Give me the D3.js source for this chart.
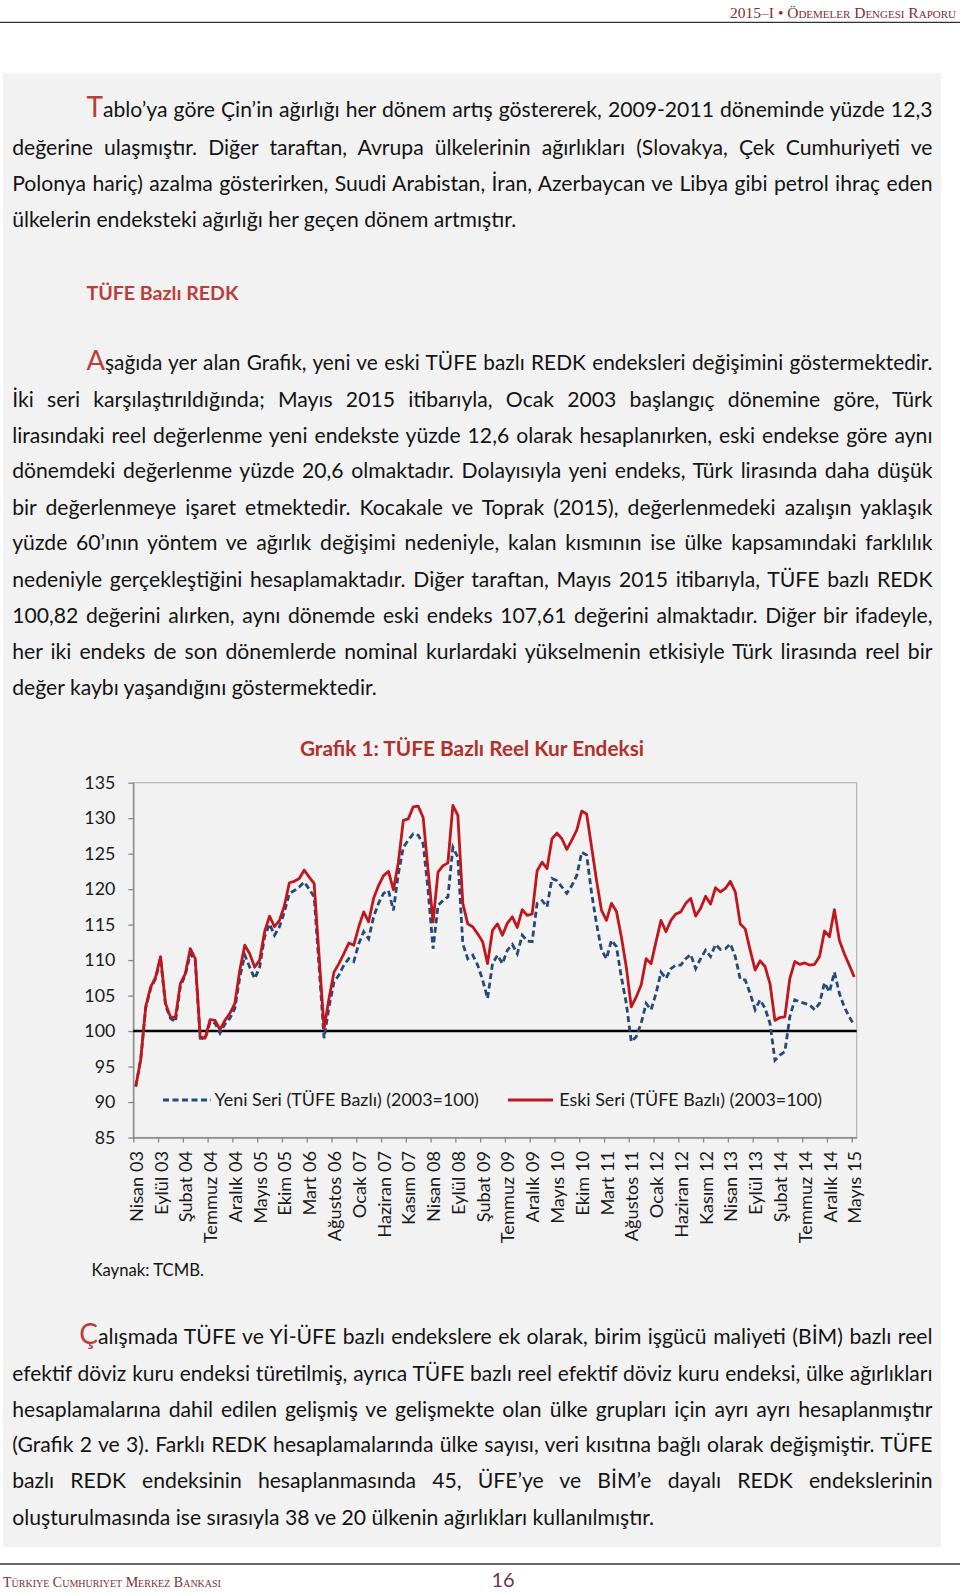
<!DOCTYPE html>
<html><head><meta charset="utf-8">
<script src="https://cdn.jsdelivr.net/npm/d3@7"></script>
<style>
html,body{margin:0;padding:0;background:#fff;}
#page{position:relative;width:960px;height:1594px;overflow:hidden;font-family:Lato,'Open Sans',sans-serif;}
#gray{position:absolute;left:3px;top:73px;width:938px;height:1474px;background:#f2f2f2;}
#chart{position:absolute;left:0;top:0;}
.ln{position:absolute;white-space:nowrap;color:#141414;}
</style></head><body>
<div id="page"><div id="gray"></div><svg id="chart" width="960" height="1594"></svg></div>
<script>
// ---------------- DATA ----------------
const tickLabels = ["Nisan 03","Eylül 03","Şubat 04","Temmuz 04","Aralık 04","Mayıs 05","Ekim 05","Mart 06","Ağustos 06","Ocak 07","Haziran 07","Kasım 07","Nisan 08","Eylül 08","Şubat 09","Temmuz 09","Aralık 09","Mayıs 10","Ekim 10","Mart 11","Ağustos 11","Ocak 12","Haziran 12","Kasım 12","Nisan 13","Eylül 13","Şubat 14","Temmuz 14","Aralık 14","Mayıs 15"];
const yTicks = [85,90,95,100,105,110,115,120,125,130,135];
const yeniSeri = [92.2,96.0,103.2,106.0,107.4,110.2,103.6,101.8,101.3,106.3,107.9,110.9,109.9,99.0,98.9,101.3,101.1,99.7,101.0,101.8,
103.2,107.6,110.7,109.0,107.4,109.0,113.3,115.1,113.5,114.7,116.8,119.4,119.8,120.3,121.0,120.0,118.9,109.0,99.0,103.4,
106.9,107.9,109.3,110.2,109.8,112.3,114.0,113.0,116.1,118.0,119.4,119.8,117.0,122.2,125.9,126.9,127.8,127.6,126.4,119.8,
111.6,117.7,118.4,118.9,125.9,124.5,112.3,110.2,110.7,109.3,107.2,104.6,109.5,110.7,109.5,111.4,112.2,110.9,113.5,112.7,
112.6,118.0,118.4,117.5,121.5,121.2,120.3,119.4,120.5,121.9,125.2,124.8,119.4,115.1,111.4,110.2,112.8,111.9,107.6,103.9,
98.5,99.2,101.1,103.9,103.0,105.3,108.3,107.4,108.8,109.3,109.3,110.2,110.8,108.8,110.2,111.4,110.5,112.2,111.5,111.6,
112.3,110.5,107.3,107.2,105.3,103.0,104.4,103.2,101.1,95.9,96.6,97.1,102.0,104.4,104.1,103.9,103.7,103.0,103.9,106.8,
105.5,108.3,105.3,103.4,102.0,100.82];
const eskiSeri = [92.2,96.0,103.4,106.2,107.6,110.5,103.9,102.0,101.9,106.7,108.1,111.6,110.2,99.2,99.0,101.6,101.5,100.2,101.5,102.5,
103.9,108.6,112.1,110.9,109.0,110.0,114.0,116.2,114.7,115.6,117.7,120.9,121.1,121.5,122.7,121.7,120.8,110.5,100.4,104.6,
108.3,109.5,110.9,112.4,112.1,114.7,116.8,115.4,118.7,120.5,121.9,122.5,119.9,123.8,129.7,129.9,131.6,131.7,130.1,122.6,
115.4,122.4,123.3,123.7,131.8,130.4,118.0,115.1,114.7,113.7,112.6,109.5,114.2,115.1,113.5,115.2,116.1,114.6,117.1,116.3,
116.5,122.6,123.8,122.9,127.1,127.9,127.1,125.6,126.9,128.3,131.0,130.6,125.9,121.2,117.0,115.6,118.0,116.9,113.3,109.0,
103.4,104.8,106.5,110.2,109.5,112.6,115.6,114.0,115.6,116.5,116.8,118.0,118.7,116.2,117.3,119.0,117.9,120.2,119.6,120.1,
121.1,119.6,115.1,114.4,111.4,108.6,109.9,109.1,106.7,101.5,101.9,102.0,107.4,109.8,109.4,109.6,109.3,109.4,110.5,114.1,
113.3,117.1,112.8,110.9,109.3,107.61];
const seriesNames = ["Yeni Seri (TÜFE Bazlı) (2003=100)","Eski Seri (TÜFE Bazlı) (2003=100)"];
const chartTitle = "Grafik 1: TÜFE Bazlı Reel Kur Endeksi";

const para1 = [
 "Tablo’ya göre Çin’in ağırlığı her dönem artış göstererek, 2009-2011 döneminde yüzde 12,3",
 "değerine ulaşmıştır. Diğer taraftan, Avrupa ülkelerinin ağırlıkları (Slovakya, Çek Cumhuriyeti ve",
 "Polonya hariç) azalma gösterirken, Suudi Arabistan, İran, Azerbaycan ve Libya gibi petrol ihraç eden",
 "ülkelerin endeksteki ağırlığı her geçen dönem artmıştır."];
const heading = "TÜFE Bazlı REDK";
const para2 = [
 "Aşağıda yer alan Grafik, yeni ve eski TÜFE bazlı REDK  endeksleri değişimini göstermektedir.",
 "İki seri karşılaştırıldığında; Mayıs 2015 itibarıyla, Ocak 2003 başlangıç dönemine göre, Türk",
 "lirasındaki reel değerlenme yeni endekste yüzde 12,6 olarak hesaplanırken, eski endekse göre aynı",
 "dönemdeki değerlenme yüzde 20,6 olmaktadır. Dolayısıyla yeni endeks, Türk lirasında daha düşük",
 "bir değerlenmeye işaret etmektedir. Kocakale ve Toprak (2015), değerlenmedeki azalışın yaklaşık",
 "yüzde 60’ının yöntem ve ağırlık değişimi nedeniyle, kalan kısmının ise ülke kapsamındaki farklılık",
 "nedeniyle gerçekleştiğini hesaplamaktadır. Diğer taraftan, Mayıs 2015 itibarıyla, TÜFE bazlı REDK",
 "100,82 değerini alırken, aynı dönemde eski endeks 107,61 değerini almaktadır. Diğer bir ifadeyle,",
 "her iki endeks de son dönemlerde nominal kurlardaki yükselmenin etkisiyle Türk lirasında reel bir",
 "değer kaybı yaşandığını göstermektedir."];
const source = "Kaynak: TCMB.";
const para3 = [
 "Çalışmada TÜFE ve Yİ-ÜFE bazlı endekslere ek olarak, birim işgücü maliyeti (BİM) bazlı reel",
 "efektif döviz kuru endeksi türetilmiş, ayrıca TÜFE bazlı reel efektif döviz kuru endeksi, ülke ağırlıkları",
 "hesaplamalarına dahil edilen gelişmiş ve gelişmekte olan ülke grupları için ayrı ayrı hesaplanmıştır",
 "(Grafik 2 ve 3).  Farklı REDK  hesaplamalarında ülke sayısı, veri kısıtına bağlı olarak değişmiştir. TÜFE",
 "bazlı  REDK  endeksinin  hesaplanmasında  45,  ÜFE’ye  ve  BİM’e  dayalı  REDK    endekslerinin",
 "oluşturulmasında ise sırasıyla 38 ve 20 ülkenin ağırlıkları kullanılmıştır."];
const headerText = "2015–I • Ödemeler Dengesi Raporu";
const footerText = "Türkiye Cumhuriyet Merkez Bankası";
const pageNo = "16";

// ---------------- TEXT LAYOUT ----------------
const RED_TXT = "#b8403c";
const ctx = document.createElement('canvas').getContext('2d');
function tw(t, size, weight){ ctx.font = (weight||400)+" "+size+"px Lato"; return ctx.measureText(t).width; }
const F = (505*100/tw(para1[3],100) + 366*100/tw(para2[9],100) + 642*100/tw(para3[5],100))/3;
const page = d3.select('#page');
const LEFT = 12.2, RIGHT = 932.5;
function line(txt, x, yc, justify, dropCap, opt){
  opt = opt || {};
  let fs = opt.size || F;
  const width = RIGHT - x;
  const dc = dropCap ? txt[0] : "";
  const rest = dropCap ? txt.slice(1) : txt;
  const dcs = fs*1.32;
  let nat = (dropCap ? tw(dc, dcs) : 0) + tw(rest, fs, opt.weight);
  let scale = 1;
  if (justify && nat > width) scale = width/nat*0.995;
  fs *= scale;
  const d = page.append('div').attr('class','ln')
    .style('left', x+'px').style('top', (yc-0.6*fs)+'px')
    .style('font-size', fs+'px').style('line-height',(1.2*fs)+'px')
    .style('color', opt.color || '#141414')
    .style('font-weight', opt.weight || 400);
  if (justify) d.style('width', width+'px').style('text-align','justify').style('text-align-last','justify');
  if (dropCap) d.append('span').style('font-size',(dcs*scale)+'px').style('color',RED_TXT).text(dc);
  d.append('span').text(rest);
  return d;
}
const p1y=[106.5,147.5,184,219.7];
para1.forEach((t,i)=>line(t, i===0?86.4:LEFT, p1y[i], i<para1.length-1, i===0));
line(heading, 86.4, 292.9, false, false, {color:RED_TXT, weight:700, size:F*152/tw(heading,F,700)});
const p2y=[360,399.7,435.3,470.9,507.5,543,579.7,615.3,651.9,687.5];
para2.forEach((t,i)=>line(t, i===0?86.4:LEFT, p2y[i], i<para2.length-1, i===0));
line(source, 91.5, 1270, false, false, {size:F*113/tw(source,F)});
const p3y=[1333.3,1373,1409.5,1445,1480.7,1517.3];
para3.forEach((t,i)=>line(t, i===0?79.3:LEFT, p3y[i], i<para3.length-1, i===0));

// ---------------- SVG: header / footer ----------------
const svg = d3.select('#chart');
svg.append('line').attr('x1',0).attr('x2',960).attr('y1',22.4).attr('y2',22.4).attr('stroke','#333').attr('stroke-width',1.3);
svg.append('text').attr('x',956).attr('y',17.5).attr('text-anchor','end')
  .attr('font-family','"Liberation Serif",serif').attr('font-size',15.5).attr('font-variant','small-caps')
  .attr('fill','#7d2f35').text(headerText);
svg.append('line').attr('x1',0).attr('x2',960).attr('y1',1564).attr('y2',1564).attr('stroke','#333').attr('stroke-width',1.3);
svg.append('text').attr('x',3).attr('y',1587).attr('font-family','"Liberation Serif",serif').attr('font-size',14)
  .attr('font-variant','small-caps').attr('fill','#7d2f35').text(footerText);
svg.append('text').attr('x',503).attr('y',1580).attr('dy','.35em').attr('text-anchor','middle')
  .attr('font-family','Lato').attr('font-size',20).attr('fill','#72305a').text(pageNo);

// ---------------- CHART ----------------
const n = eskiSeri.length;
const x = d3.scaleLinear().domain([-0.5, n-0.5]).range([133.3, 856.7]);
const y = d3.scaleLinear().domain([85,135]).range([1137.5, 782.7]);
const chartFont = 'Lato';

svg.append('text').attr('x',472).attr('y',748.5).attr('dy','.35em').attr('text-anchor','middle')
  .attr('font-family',chartFont).attr('font-weight',700).attr('font-size',20.8).attr('fill','#b0302c').text(chartTitle);

// plot border
svg.append('rect').attr('x',x.range()[0]).attr('y',y(135)).attr('width',x.range()[1]-x.range()[0])
  .attr('height',y(85)-y(135)).attr('fill','none').attr('stroke','#b4b4b4').attr('stroke-width',1.2);

// y axis
const gy = svg.append('g').attr('transform',`translate(${x.range()[0]},0)`)
  .call(d3.axisLeft(y).tickValues(yTicks).tickSize(5).tickSizeOuter(0).tickPadding(13).tickFormat(d3.format('d')));
gy.select('.domain').attr('stroke','#868686').attr('stroke-width',1.3);
gy.selectAll('.tick line').attr('stroke','#868686').attr('stroke-width',1.3);
gy.selectAll('.tick text').attr('font-family',chartFont).attr('font-size',17.8).attr('fill','#1a1a1a');

// x axis ticks (category boundaries every 5 months)
const gx = svg.append('g').attr('transform',`translate(0,${y(85)})`)
  .call(d3.axisBottom(x).tickValues(d3.range(0, tickLabels.length).map(k=>5*k-0.5)).tickSize(5).tickSizeOuter(0).tickFormat(''));
gx.select('.domain').attr('stroke','#868686').attr('stroke-width',1.3);
gx.selectAll('.tick line').attr('stroke','#868686').attr('stroke-width',1.3);
// x labels
const gl = svg.append('g').attr('transform',`translate(0,${y(85)})`)
  .call(d3.axisBottom(x).tickValues(tickLabels.map((d,k)=>5*k)).tickSize(0).tickFormat((d,k)=>tickLabels[k]));
gl.select('.domain').remove();
gl.selectAll('.tick text').attr('transform','rotate(-90)').attr('text-anchor','end')
  .attr('x',-13.5).attr('y',0).attr('dy','.36em')
  .attr('font-family',chartFont).attr('font-size',18.2).attr('fill','#1a1a1a');

// 100 reference line
svg.append('line').attr('x1',x.range()[0]).attr('x2',x.range()[1]).attr('y1',y(100)).attr('y2',y(100))
  .attr('stroke','#000').attr('stroke-width',2.4);

const lineGen = d3.line().x((d,i)=>x(i)).y(d=>y(d));
svg.append('path').datum(yeniSeri).attr('d',lineGen).attr('fill','none')
  .attr('stroke','#26497a').attr('stroke-width',2.8).attr('stroke-dasharray','6,3.5');
svg.append('path').datum(eskiSeri).attr('d',lineGen).attr('fill','none')
  .attr('stroke','#c0161d').attr('stroke-width',2.8).attr('stroke-linejoin','round');

// legend
const ly = 1100;
svg.append('line').attr('x1',163).attr('x2',211).attr('y1',ly).attr('y2',ly)
  .attr('stroke','#26497a').attr('stroke-width',2.8).attr('stroke-dasharray','6,3.5');
svg.append('text').attr('x',214.5).attr('y',ly).attr('dy','.35em').attr('font-family',chartFont)
  .attr('font-size',17.9).attr('fill','#1a1a1a').text(seriesNames[0]);
svg.append('line').attr('x1',508).attr('x2',553).attr('y1',ly).attr('y2',ly)
  .attr('stroke','#c0161d').attr('stroke-width',2.8);
svg.append('text').attr('x',559.3).attr('y',ly).attr('dy','.35em').attr('font-family',chartFont)
  .attr('font-size',17.9).attr('fill','#1a1a1a').text(seriesNames[1]);
</script>
</body></html>
